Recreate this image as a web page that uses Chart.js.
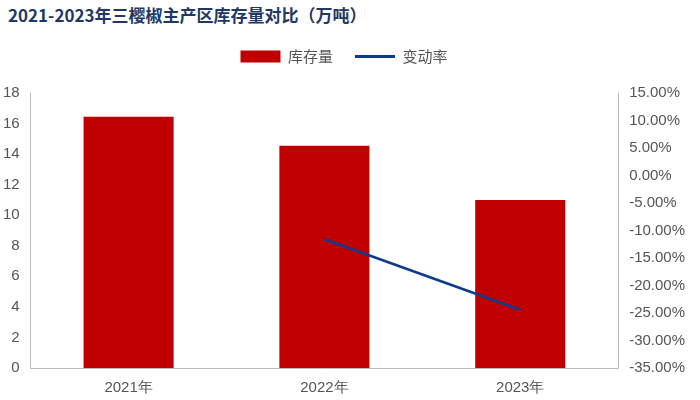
<!DOCTYPE html>
<html><head><meta charset="utf-8">
<script src="https://cdn.jsdelivr.net/npm/chart.js@4"></script>
<style>body{margin:0;background:#fff}#w{position:relative;width:700px;height:400px}
#t{position:absolute;left:8px;top:2px;font:bold 17px "Noto Sans CJK SC";color:#1f3864}</style>
</head><body><div id="w"><div id="t">2021-2023年三樱椒主产区库存量对比（万吨）</div>
<div style="position:absolute;left:0;top:27px;width:700px;height:373px"><canvas id="c"></canvas></div></div>
<script>
const categories=['2021年','2022年','2023年'];
const stock=[16.45,14.55,11.0];
const change=[null,-11.6,-24.4];
const legendGap={id:'legendGap',beforeInit(ch){const f=ch.legend.fit;ch.legend.fit=function(){f.call(this);this.height+=19;};}};
new Chart(document.getElementById('c'),{
plugins:[legendGap],
data:{labels:categories,datasets:[
{type:'line',label:'变动率',data:change,borderColor:'#0d3a8c',backgroundColor:'#0d3a8c',borderWidth:2.5,pointRadius:0,yAxisID:'y1',order:0},
{type:'bar',label:'库存量',data:stock,backgroundColor:'#c00000',yAxisID:'y',barPercentage:0.46,categoryPercentage:1,order:1}]},
options:{responsive:true,maintainAspectRatio:false,animation:false,
layout:{padding:{left:0,right:12,bottom:0}},
plugins:{legend:{reverse:true,labels:{font:{size:15,family:'Noto Sans CJK SC'},color:'#555',boxWidth:40,boxHeight:12,padding:22,
generateLabels:ch=>{const l=Chart.defaults.plugins.legend.labels.generateLabels(ch);l.forEach(i=>{if(i.text==='变动率'){i.pointStyle='line';i.lineWidth=3;i.strokeStyle='#0d3a8c';}else{i.pointStyle='rect';i.lineWidth=0;}});return l;},
usePointStyle:true,pointStyleWidth:40}}},
scales:{x:{grid:{display:false},border:{color:'#bbb'},ticks:{font:{size:15},color:'#555'}},
y:{min:0,max:18,ticks:{stepSize:2,font:{size:15},color:'#555'},grid:{display:false},border:{color:'#bbb'}},
y1:{position:'right',min:-35,max:15,ticks:{stepSize:5,font:{size:15},color:'#555',callback:v=>v.toFixed(2)+'%'},grid:{display:false},border:{color:'#bbb'}}}}});
</script></body></html>
